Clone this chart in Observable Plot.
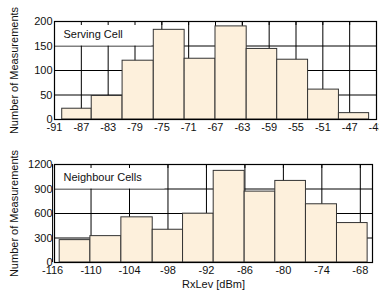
<!DOCTYPE html>
<html>
<head>
<meta charset="utf-8">
<script src="https://cdn.jsdelivr.net/npm/d3@7"></script>
<script src="https://cdn.jsdelivr.net/npm/@observablehq/plot@0.6"></script>
<style>
  html, body { margin: 0; padding: 0; background: #fff; }
  #chart svg { display: block; }
</style>
</head>
<body>
<div id="chart"></div>
<script>
// Serving cell histogram
const servingEdges = [-89.85, -85.45, -80.85, -76.2, -71.6, -67, -62.35, -57.8, -53.2, -48.6, -44.1];
const servingCounts = [22, 48, 120, 183, 124, 190, 144, 122, 61, 13];
const servingXTicks = [-91, -87, -83, -79, -75, -71, -67, -63, -59, -55, -51, -47, -43];
const servingYTicks = [0, 50, 100, 150, 200];

// Neighbour cells histogram
const neighbourEdges = [-114.89, -110.1, -105.27, -100.38, -95.65, -90.87, -86.04, -81.26, -76.48, -71.64, -66.86];
const neighbourCounts = [274, 323, 553, 401, 598, 1122, 868, 999, 713, 483];
const neighbourXTicks = [-116, -110, -104, -98, -92, -86, -80, -74, -68];
const neighbourYTicks = [0, 300, 600, 900, 1200];

const FONT = "'Liberation Sans', Arial, sans-serif";
const BAR_FILL = "#fdf0dc";

function toBins(edges, counts) {
  return counts.map((c, i) => ({x1: edges[i], x2: edges[i + 1], y: c}));
}

function legendBox(w, h) {
  return (index, scales, values, dims) => {
    const r = document.createElementNS("http://www.w3.org/2000/svg", "rect");
    r.setAttribute("x", dims.marginLeft + 0.5);
    r.setAttribute("y", dims.marginTop + 0.5);
    r.setAttribute("width", w);
    r.setAttribute("height", h);
    r.setAttribute("fill", "white");
    return r;
  };
}

function histPlot({bins, xDomain, yDomain, xTicks, yTicks, title, height, margins, boxW, xLabel, labelOffsetX}) {
  return Plot.plot({
    width: 379,
    height,
    ...margins,
    style: {fontFamily: FONT, fontSize: "11px", color: "black", background: "white"},
    x: {domain: xDomain},
    y: {domain: yDomain},
    marks: [
      Plot.gridX(xTicks, {stroke: "black", strokeOpacity: 1, strokeWidth: 1}),
      Plot.gridY(yTicks, {stroke: "black", strokeOpacity: 1, strokeWidth: 1}),
      legendBox(boxW, 24),
      Plot.rectY(bins, {x1: "x1", x2: "x2", y: "y", fill: BAR_FILL, stroke: "#333", strokeWidth: 1}),
      Plot.text([title], {frameAnchor: "top-left", dx: 9, dy: 9, text: d => d, textAnchor: "start", fontSize: 11, fill: "#111"}),
      Plot.axisX({anchor: "top", ticks: xTicks, tickSize: -3, tickFormat: () => "", label: null, stroke: "black"}),
      Plot.axisX({anchor: "bottom", ticks: xTicks, tickSize: 0, tickPadding: 4, tickFormat: d => String(d).replace("−", "-"),
        label: xLabel, labelAnchor: "center", labelArrow: "none", labelOffset: labelOffsetX, fill: "#111"}),
      Plot.axisY({anchor: "left", ticks: yTicks, tickSize: 0, tickPadding: 2, tickFormat: d => String(d),
        label: "Number of Measurements", labelAnchor: "center", labelArrow: "none", labelOffset: 44, fill: "#111"}),
      Plot.frame({stroke: "black", strokeWidth: 1.2})
    ]
  });
}

const topPlot = histPlot({
  bins: toBins(servingEdges, servingCounts),
  xDomain: [-91, -43],
  yDomain: [0, 200],
  xTicks: servingXTicks,
  yTicks: servingYTicks,
  title: "Serving Cell",
  height: 145,
  margins: {marginLeft: 54, marginRight: 3, marginTop: 21, marginBottom: 26},
  boxW: 97,
  xLabel: null,
  labelOffsetX: 0
});

const bottomPlot = histPlot({
  bins: toBins(neighbourEdges, neighbourCounts),
  xDomain: [-115.7, -66.1],
  yDomain: [0, 1200],
  xTicks: neighbourXTicks,
  yTicks: neighbourYTicks,
  title: "Neighbour Cells",
  height: 150,
  margins: {marginLeft: 54, marginRight: 7, marginTop: 19, marginBottom: 33},
  boxW: 110,
  xLabel: "RxLev [dBm]",
  labelOffsetX: 25
});

const el = document.getElementById("chart");
el.appendChild(topPlot);
el.appendChild(bottomPlot);
</script>
</body>
</html>
